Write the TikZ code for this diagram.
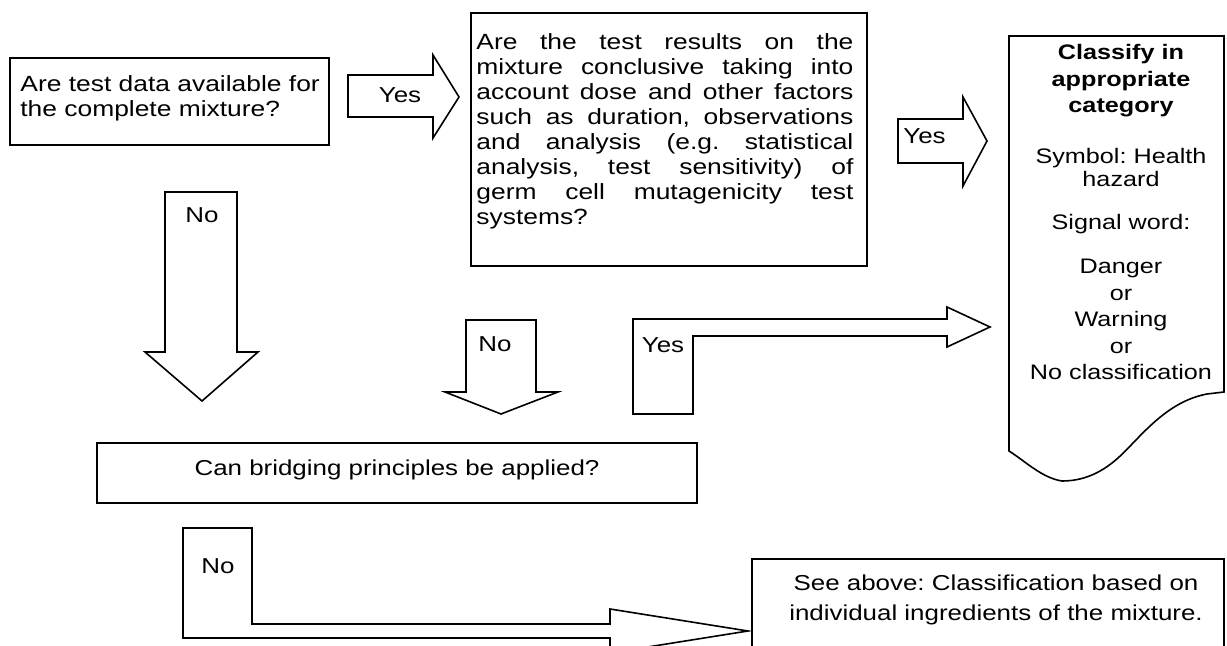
\documentclass[tikz,border=0pt]{standalone}
\usepackage{fontspec}
\setmainfont[FakeStretch=1.2]{Liberation Sans}
\frenchspacing
\begin{document}
\begin{tikzpicture}[x=0.5pt,y=-0.5pt,
  outline/.style={draw=black,line width=0.8pt,line join=miter},
  txt/.style={inner sep=0pt,font=\fontsize{10.8}{12.5}\selectfont}]
\useasboundingbox (0,0) rectangle (1227,646);
\clip (0,0) rectangle (1227,646);
% boxes
\draw[outline] (10,58) rectangle (329,145);
\draw[outline] (471,13) rectangle (867,266);
\draw[outline] (97,443) rectangle (697,503);
\draw[outline] (752,559) rectangle (1224,690);
\draw[outline] (1009,36) -- (1224,36) -- (1224,392) -- (1207,394)
  .. controls (1165,402) and (1140,438) .. (1118,458)
  .. controls (1100,474) and (1082,481) .. (1062,481)
  .. controls (1042,478) and (1025,461) .. (1009,451) -- cycle;
% block arrows
\draw[outline] (348,75) -- (433,75) -- (433,55) -- (459,97) -- (433,138) -- (433,117) -- (348,117) -- cycle;
\draw[outline] (898,119) -- (963,119) -- (963,97) -- (987,141) -- (963,186) -- (963,163) -- (898,163) -- cycle;
\draw[outline] (165,192) -- (237,192) -- (237,352) -- (258,352) -- (202,401) -- (145,352) -- (165,352) -- cycle;
\draw[outline] (466,320) -- (536,320) -- (536,392) -- (558,392) -- (501,414) -- (445,392) -- (466,392) -- cycle;
\draw[outline] (633,414) -- (633,319) -- (947,319) -- (947,307) -- (990,327) -- (947,347) -- (947,336) -- (693,336) -- (693,414) -- cycle;
\draw[outline] (183,528) -- (252,528) -- (252,624) -- (610,624) -- (610,609) -- (748,631) -- (610,653) -- (610,638) -- (183,638) -- cycle;
% texts
\node[txt,anchor=north west,align=left,font=\fontsize{11}{12.5}\selectfont] (q1) at (20,75) {Are test data available for\\the complete mixture?};
\node[txt,anchor=north west,align=left,font=\fontsize{11}{12.5}\selectfont] (q2) at (476,33) {%
\makebox[188.5pt][s]{Are the test results on the}\\
\makebox[188.5pt][s]{mixture conclusive taking into}\\
\makebox[188.5pt][s]{account dose and other factors}\\
\makebox[188.5pt][s]{such as duration, observations}\\
\makebox[188.5pt][s]{and analysis (e.g. statistical}\\
\makebox[188.5pt][s]{analysis, test sensitivity) of}\\
\makebox[188.5pt][s]{germ cell mutagenicity test}\\
systems?};
\node[txt,anchor=base] (q3) at (397,476) {Can bridging principles be applied?};
\node[txt,anchor=north,align=center,font=\fontsize{10.8}{15}\selectfont] (see) at (996,574) {See above: Classification based on\\individual ingredients of the mixture.};
\node[txt,anchor=north,align=center,font=\fontsize{10.5}{13.25}\selectfont] (cls) at (1121,44) {%
\textbf{Classify in}\\\textbf{appropriate}\\\textbf{category}\\[12pt]
Symbol: Health\\[-1.5pt] hazard\\[8pt]
Signal word:\\[9pt]
Danger\\ or\\ Warning\\ or\\ No classification};
\node[txt,anchor=base] (yes1) at (400,103) {Yes};
\node[txt,anchor=base west] (yes2) at (903,144) {Yes};
\node[txt,anchor=base] (yes3) at (663,353) {Yes};
\node[txt,anchor=base] (no1) at (202,223) {No};
\node[txt,anchor=base] (no2) at (495,352) {No};
\node[txt,anchor=base] (no3) at (218,574) {No};
\end{tikzpicture}
\end{document}
